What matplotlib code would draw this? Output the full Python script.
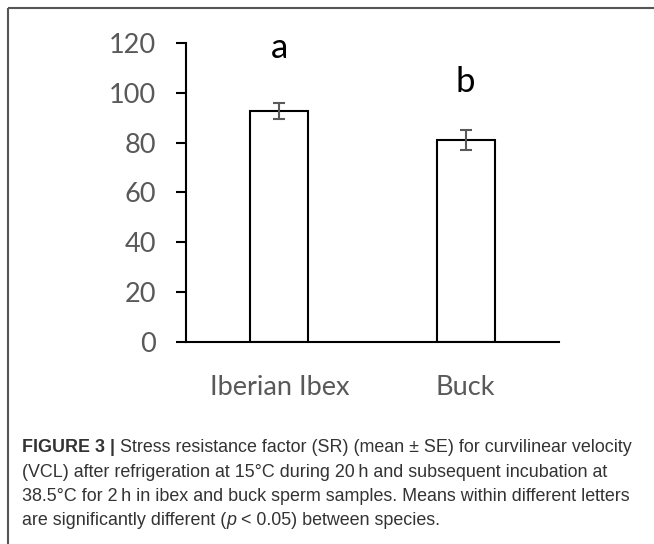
import matplotlib
matplotlib.use("Agg")
import matplotlib.pyplot as plt
from matplotlib.lines import Line2D

# ---------------------------------------------------------------------------
# Data
# ---------------------------------------------------------------------------
categories = ["Iberian Ibex", "Buck"]
means = [92.8, 81.2]
se = [3.3, 4.0]
letters = ["a", "b"]
letter_y = [114.0, 100.5]

caption_lines = [
    [("FIGURE 3 |", "bold", "normal"),
     (" Stress resistance factor (SR) (mean \u00b1 SE) for curvilinear velocity", "normal", "normal")],
    [("(VCL) after refrigeration at 15\u00b0C during 20\u2009h and subsequent incubation at", "normal", "normal")],
    [("38.5\u00b0C for 2\u2009h in ibex and buck sperm samples. Means within different letters", "normal", "normal")],
    [("are significantly different (", "normal", "normal"),
     ("p", "normal", "italic"),
     (" < 0.05) between species.", "normal", "normal")],
]

# ---------------------------------------------------------------------------
# Plot
# ---------------------------------------------------------------------------
W, H = 654, 544
fig = plt.figure(figsize=(W / 100, H / 100), dpi=100)
ax = fig.add_axes([186 / W, 1 - 342 / H, 373 / W, 299 / H])

x = list(range(len(categories)))
ax.bar(x, means, width=0.31, color="white", edgecolor="black", linewidth=1.5, zorder=2)
ax.errorbar(x, means, yerr=se, fmt="none", ecolor="#595959", elinewidth=1.5,
            capsize=4.5, capthick=1.5, zorder=3)
for xi, lab, ly in zip(x, letters, letter_y):
    ax.text(xi, ly, lab, ha="center", va="baseline", fontsize=25,
            family="Lato", color="black")

ax.set_xlim(-0.5, 1.5)
ax.set_ylim(0, 120)
ax.set_yticks(range(0, 121, 20))
ax.set_xticks(x)
ax.set_xticklabels(categories)
ax.spines[["top", "right"]].set_visible(False)
for s in ("left", "bottom"):
    ax.spines[s].set_linewidth(1.5)
ax.tick_params(axis="y", length=7.5, width=1.5, pad=14, labelsize=19.5,
               labelcolor="#595959")
ax.tick_params(axis="x", length=0, pad=24, labelsize=19.5, labelcolor="#595959")
for t in ax.get_xticklabels() + ax.get_yticklabels():
    t.set_family("Lato")

# frame lines (top and left)
fig.add_artist(Line2D([8 / W, 1], [1 - 8 / H, 1 - 8 / H], color="#555555",
                      linewidth=1.5, solid_capstyle="butt", transform=fig.transFigure))
fig.add_artist(Line2D([8 / W, 8 / W], [0, 1 - 8 / H], color="#555555",
                      linewidth=1.5, solid_capstyle="butt", transform=fig.transFigure))

# caption
fig.canvas.draw()
renderer = fig.canvas.get_renderer()
y0 = 448
for i, pieces in enumerate(caption_lines):
    xpos = 22
    ypix = y0 + i * 24.2
    for txt, weight, style in pieces:
        t = fig.text(xpos / W, 1 - ypix / H, txt, fontsize=12.9, family="Liberation Sans",
                     weight=weight, style=style, color="#333333", va="center", ha="left")
        bb = t.get_window_extent(renderer=renderer)
        xpos += bb.width

fig.savefig("out.png", dpi=100)
